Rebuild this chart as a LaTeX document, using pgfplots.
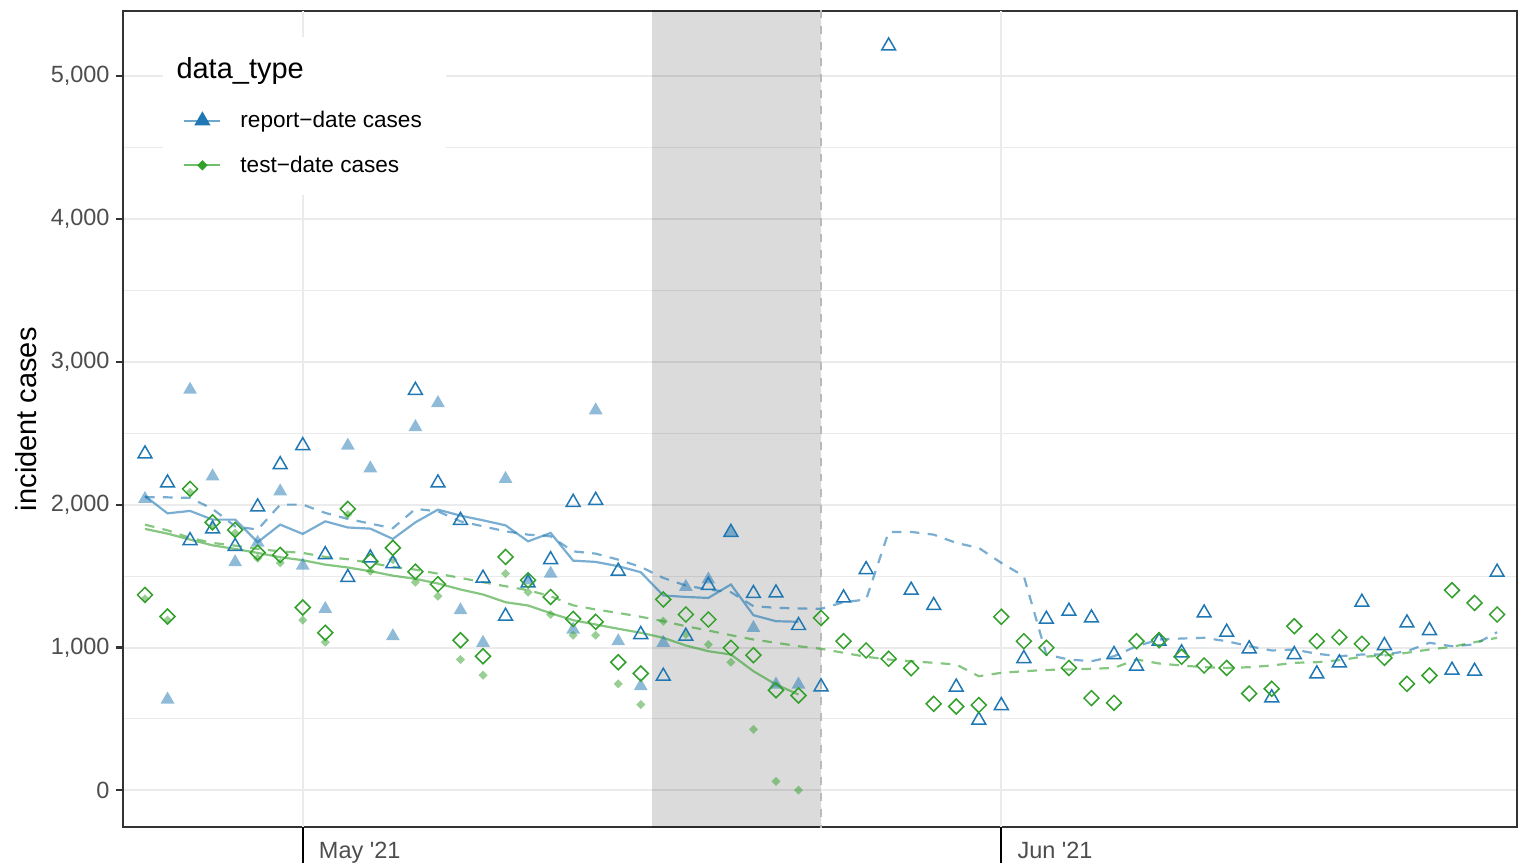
\documentclass[border=0pt]{standalone}
\usepackage{fontspec}
\setmainfont{Liberation Sans}[Ligatures=TeXOff]
\usepackage{pgfplots}
\pgfplotsset{compat=1.18}
\usepackage{pgfplotstable}
\usetikzlibrary{calc}

\definecolor{repblue}{HTML}{1F78B4}
\definecolor{testgreen}{HTML}{33A02C}
\definecolor{gridgray}{HTML}{EBEBEB}
\definecolor{ticktext}{HTML}{4D4D4D}
\definecolor{framec}{HTML}{333333}

% all days: observed points and the dashed curves
\pgfplotstableread{
day rep test repd testd
-7 2355 1368 2051 1860
-6 2152 1217 2051 1820
-5 1748 2110 2047 1767
-4 1830 1876 1970 1732
-3 1708 1823 1848 1713
-2 1984 1664 1825 1690
-1 2280 1648 2000 1673
0 2413 1280 2000 1662
1 1650 1103 1942 1634
2 1490 1970 1900 1618
3 1627 1604 1867 1592
4 1587 1697 1835 1564
5 2800 1531 1970 1545
6 2152 1443 1953 1517
7 1890 1051 1883 1487
8 1485 939 1848 1457
9 1219 1634 1813 1429
10 1452 1471 1790 1401
11 1615 1354 1778 1359
12 2016 1200 1673 1295
13 2030 1180 1657 1266
14 1534 897 1615 1242
15 1091 818 1564 1215
16 799 1336 1487 1184
17 1079 1231 1434 1149
18 1434 1196 1406 1119
19 1806 998 1387 1086
20 1378 946 1289 1056
21 1382 701 1278 1033
22 1154 664 1273 1009
23 725 1207 1271 991
24 1347 1044 1317 963
25 1545 979 1336 935
26 5210 921 1809 916
27 1401 855 1809 904
28 1294 606 1790 893
29 723 587 1732 881
30 492 597 1697 799
31 594 1215 1592 823
32 923 1044 1499 834
33 1198 998 950 843
34 1254 857 916 846
35 1207 646 904 851
36 951 613 939 857
37 869 1044 1009 916
38 1044 1051 1056 888
39 963 935 1063 874
40 1242 874 1068 862
41 1107 857 1044 857
42 991 678 1009 862
43 648 711 979 874
44 951 1149 986 893
45 816 1044 956 897
46 893 1072 939 911
47 1317 1026 951 935
48 1014 928 951 944
49 1172 746 974 963
50 1119 804 1033 986
51 841 1401 1009 1005
52 834 1312 1021 1037
53 1527 1231 1107 1068
}\full

% days up to the cut: light points and the solid curves
\pgfplotstableread{
day rep test repl testl
-7 2040 1340 2060 1830
-6 636 1191 1939 1797
-5 2804 2086 1956 1755
-4 2198 1848 1895 1715
-3 1597 1802 1895 1690
-2 1734 1625 1737 1662
-1 2093 1592 1860 1632
0 1573 1191 1795 1611
1 1270 1037 1883 1580
2 2413 1930 1840 1560
3 2254 1534 1832 1534
4 1079 1615 1760 1503
5 2543 1457 1876 1480
6 2711 1359 1965 1448
7 1261 916 1923 1406
8 1033 806 1890 1371
9 2180 1517 1855 1317
10 1470 1387 1743 1294
11 1517 1231 1802 1240
12 1126 1086 1608 1191
13 2660 1086 1599 1161
14 1044 746 1569 1131
15 730 601 1527 1103
16 1033 1184 1364 1068
17 1424 1091 1354 1014
18 1476 1021 1347 974
19 1806 897 1441 951
20 1137 427 1226 834
21 741 63 1184 741
22 741 2 1180 671
}\early

\begin{document}
\begin{tikzpicture}
\begin{axis}[
  width=697.5pt, height=408.5pt, scale only axis,
  xmin=-7.98, xmax=53.88,
  ymin=-259, ymax=5455,
  axis line style={framec, line width=1.1pt},
  tick pos=left,
  ytick={0,1000,...,5000},
  minor ytick={500,1500,...,4500},
  xtick=\empty,
  minor xtick={-5,2,...,51},
  extra x ticks={0,31},
  extra x tick labels={May '21,Jun '21},
  extra x tick style={major tick length=18pt,
    tick style={black, line width=1.1pt},
    xticklabel style={anchor=north west, xshift=4.6pt, yshift=14pt}},
  grid=both,
  major grid style={gridgray, line width=1pt},
  minor grid style={gridgray, line width=0.5pt},
  tick align=outside,
  major tick length=3.5pt, minor tick length=0pt,
  tick style={framec, line width=1.1pt},
  tick label style={font=\fontsize{11.75}{14}\selectfont, color=ticktext},
  yticklabel style={inner sep=0pt, xshift=-3pt},
  /pgf/number format/assume math mode=true,
  /pgf/number format/1000 sep={,},
  ylabel={incident cases},
  ylabel style={font=\fontsize{14.5}{17}\selectfont, at={(axis description cs:-0.0695,0.5)}, anchor=center},
  legend cell align=left,
  legend style={at={(axis description cs:0.0287,0.9682)}, anchor=north west,
    draw=none, fill=white, inner xsep=10pt, inner ysep=8.2pt, row sep=8.5pt,
    font=\fontsize{11.3}{13.5}\selectfont,
    /tikz/every odd column/.append style={column sep=7.5pt}},
]
% shaded window and cut-off line
\addplot[draw=none, fill=black, fill opacity=0.14, forget plot]
  coordinates {(15.5,-300) (23,-300) (23,5500) (15.5,5500) (15.5,-300)};
\addplot[draw=black!27, line width=1pt, dash pattern=on 4pt off 4pt, forget plot]
  coordinates {(23,-300) (23,5500)};

% curves
\addplot[repblue, draw opacity=0.6, line width=1.1pt, dash pattern=on 4.8pt off 4.2pt, no markers, forget plot]
  table[x=day, y=repd] {\full};
\addplot[testgreen, draw opacity=0.6, line width=1.1pt, dash pattern=on 4.8pt off 4.2pt, no markers, forget plot]
  table[x=day, y=testd] {\full};
\addplot[repblue, draw opacity=0.6, line width=1.1pt, no markers, forget plot]
  table[x=day, y=repl] {\early};
\addplot[testgreen, draw opacity=0.6, line width=1.1pt, no markers, forget plot]
  table[x=day, y=testl] {\early};

% light points
\addplot[only marks, color=repblue, mark=triangle*, mark size=4pt,
  mark options={fill=repblue, fill opacity=0.5, draw opacity=0}, forget plot]
  table[x=day, y=rep] {\early};
\addplot[only marks, color=testgreen, mark=square*, mark size=1.6pt,
  mark options={rotate=45, fill=testgreen, fill opacity=0.5, draw opacity=0}, forget plot]
  table[x=day, y=test] {\early};

% observed points
\addplot[only marks, mark=triangle, mark size=4pt,
  mark options={draw=repblue, line width=0.75pt}, forget plot]
  table[x=day, y=rep] {\full};
\addplot[only marks, mark=square, mark size=2.65pt,
  mark options={rotate=45, draw=testgreen, line width=0.75pt}, forget plot]
  table[x=day, y=test] {\full};

% legend
\addlegendimage{empty legend}
\addlegendentry{\makebox[0pt][l]{\hspace*{-32pt}\raisebox{2pt}{\fontsize{14.5}{17}\selectfont data\_type}}\rule[-12.5pt]{0pt}{10pt}}
\addlegendimage{color=repblue!65!white, line width=1.1pt, mark=triangle*, mark size=3.6pt,
  mark options={fill=repblue, draw=repblue, solid},
  legend image code/.code={\draw[mark repeat=2,mark phase=2] plot coordinates {(0pt,0pt) (9pt,0pt) (18pt,0pt)};}}
\addlegendentry{\rule[-3pt]{0pt}{11.5pt}report−date cases}
\addlegendimage{color=testgreen!70!white, line width=1.1pt, mark=square*, mark size=1.3pt,
  mark options={rotate=45, fill=testgreen, draw=testgreen, solid},
  legend image code/.code={\draw[mark repeat=2,mark phase=2] plot coordinates {(0pt,0pt) (9pt,0pt) (18pt,0pt)};}}
\addlegendentry{\rule[-6pt]{0pt}{11.5pt}test−date cases}
\end{axis}
\pgfresetboundingbox
\path[use as bounding box] ($(current axis.south west)+(-61.5pt,-18pt)$) rectangle ($(current axis.north east)+(0.55pt,5.5pt)$);
\end{tikzpicture}
\end{document}
